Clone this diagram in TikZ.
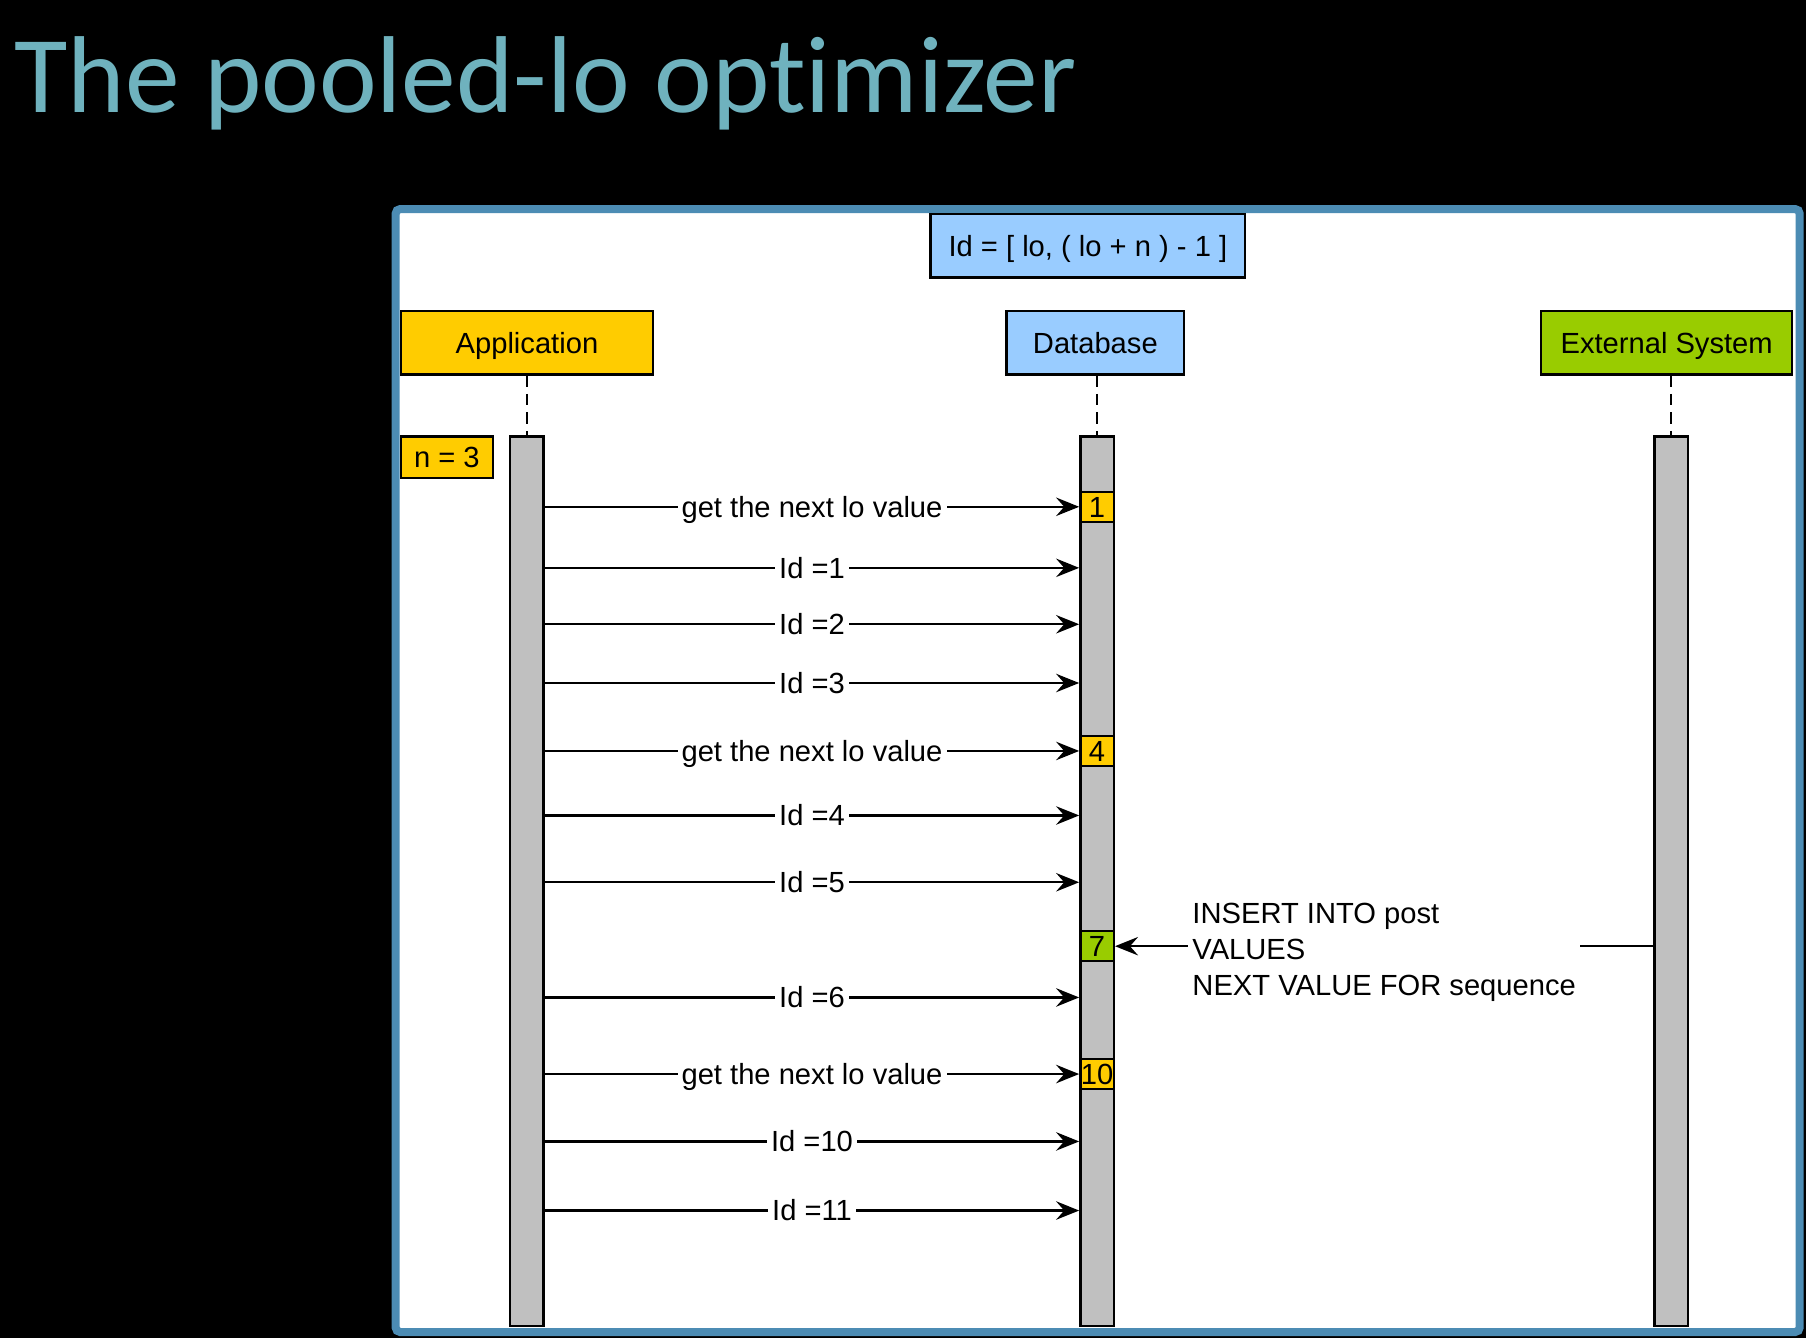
\documentclass[tikz,border=0pt]{standalone}
\usepackage{fontspec}
\setmainfont{Liberation Sans}
\newfontfamily\titlefont[Ligatures=NoCommon]{Carlito}
\usetikzlibrary{arrows.meta}
\definecolor{titleteal}{RGB}{111,178,190}
\definecolor{frameblue}{RGB}{76,140,180}
\definecolor{appyellow}{RGB}{255,204,0}
\definecolor{dbblue}{RGB}{153,204,255}
\definecolor{extgreen}{RGB}{153,204,0}
\definecolor{lifegray}{RGB}{192,192,192}

\begin{document}
\begin{tikzpicture}[
    font=\fontsize{7.2}{8.9}\selectfont,
    box/.style={draw=black, line width=0.6pt, minimum height=0.55cm, inner sep=0pt, text height=0.18cm, text depth=0cm},
    life/.style={draw=black, line width=0.6pt, fill=lifegray, minimum width=0.29cm, minimum height=7.72cm, inner sep=0pt},
    act/.style={draw=black, line width=0.6pt, fill=appyellow, minimum width=0.29cm, minimum height=0.26cm, inner sep=0pt, text height=0.18cm, text depth=0cm},
    msg/.style={line width=0.6pt, -{Stealth[length=0.2cm,width=0.16cm,inset=0.07cm]}},
    lbl/.style={fill=white, inner sep=1pt, text height=0.18cm, text depth=0cm},
    note/.style={fill=white, inner sep=1pt, align=left, yshift=-0.05cm},
    dashline/.style={line width=0.6pt, dash pattern=on 0.1cm off 0.06cm}
  ]
  \useasboundingbox (0,0) rectangle (15.68,-11.616);
  \fill[black] (0,0) rectangle (15.68,-11.616);

  \node[anchor=base west, text=titleteal, inner sep=0pt,
        font=\titlefont\fontsize{27}{30}\selectfont] (title) at (0.12,-0.98) {The pooled-lo optimizer};
  \draw[line width=0.07cm, draw=frameblue, fill=white, rounded corners=0.04cm]
        (3.435,-1.815) rectangle (15.625,-11.565);

  \node[box, fill=dbblue, minimum width=2.73cm] (range) at (9.445,-2.135) {Id = [ lo, ( lo + n ) - 1 ]};
  \node[box, fill=appyellow, minimum width=2.19cm] (app) at (4.575,-2.975) {Application};
  \node[box, fill=dbblue, minimum width=1.54cm] (db) at (9.51,-2.975) {Database};
  \node[box, fill=extgreen, minimum width=2.18cm] (ext) at (14.47,-2.975) {External System};

  \node[life] (applife) at (4.575,-7.65) {};
  \node[life] (dblife) at (9.525,-7.65) {};
  \node[life] (extlife) at (14.51,-7.65) {};

  \draw[dashline] (app) -- (applife);
  \draw[dashline] (db.south -| dblife.north) -- (dblife.north);
  \draw[dashline] (extlife.north |- ext.south) -- (extlife.north);

  \node[box, fill=appyellow, minimum width=0.80cm, minimum height=0.36cm] (nval) at (3.88,-3.97) {n = 3};

  \node[act] (lo1) at (9.525,-4.40) {1};
  \node[act] (lo4) at (9.525,-6.52) {4};
  \node[act, fill=extgreen] (lo7) at (9.525,-8.215) {7};
  \node[act] (lo10) at (9.525,-9.325) {10};

  \draw[msg] (applife.east |- lo1) -- node[lbl] {get the next lo value} (lo1.west);
  \draw[msg] (applife.east |- 0,-4.93) -- node[lbl] {Id =1} (dblife.west |- 0,-4.93);
  \draw[msg] (applife.east |- 0,-5.42) -- node[lbl] {Id =2} (dblife.west |- 0,-5.42);
  \draw[msg] (applife.east |- 0,-5.93) -- node[lbl] {Id =3} (dblife.west |- 0,-5.93);
  \draw[msg] (applife.east |- lo4) -- node[lbl] {get the next lo value} (lo4.west);
  \draw[msg] (applife.east |- 0,-7.08) -- node[lbl] {Id =4} (dblife.west |- 0,-7.08);
  \draw[msg] (applife.east |- 0,-7.66) -- node[lbl] {Id =5} (dblife.west |- 0,-7.66);
  \draw[msg] (extlife.west |- lo7) -- node[note] {INSERT INTO post\\VALUES\\NEXT VALUE FOR sequence} (lo7.east);
  \draw[msg] (applife.east |- 0,-8.66) -- node[lbl] {Id =6} (dblife.west |- 0,-8.66);
  \draw[msg] (applife.east |- lo10) -- node[lbl] {get the next lo value} (lo10.west);
  \draw[msg] (applife.east |- 0,-9.91) -- node[lbl] {Id =10} (dblife.west |- 0,-9.91);
  \draw[msg] (applife.east |- 0,-10.51) -- node[lbl] {Id =11} (dblife.west |- 0,-10.51);
\end{tikzpicture}
\end{document}
